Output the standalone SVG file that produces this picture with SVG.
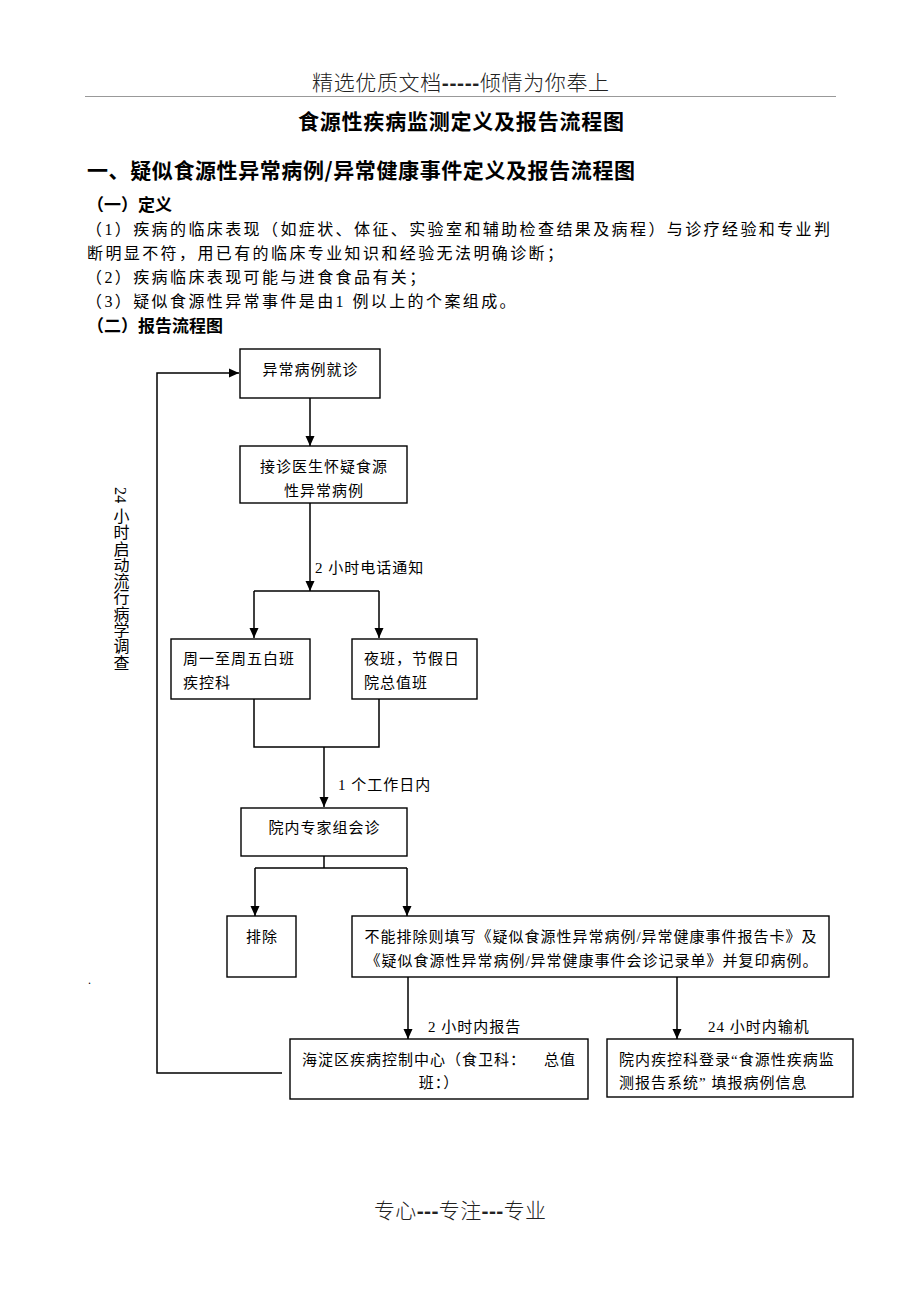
<svg xmlns="http://www.w3.org/2000/svg" width="920" height="1302" viewBox="0 0 920 1302">
<style>
text{font-family:"Liberation Serif","Noto Sans CJK SC",serif;fill:#000}
.hd{font-family:"Noto Sans CJK SC",sans-serif;font-weight:300;font-size:21px;fill:#222}
.dash{font-family:"Liberation Sans",sans-serif;font-weight:bold}
.h1{font-family:"Noto Sans CJK SC",sans-serif;font-weight:bold;font-size:21px}
.h2{font-family:"Noto Sans CJK SC",sans-serif;font-weight:bold;font-size:17px}
.body{font-size:16px;letter-spacing:2.4px}
.bx{font-size:15px;letter-spacing:1px}
.lbl{font-size:15px;letter-spacing:1px}
.node rect{fill:#fff;stroke:#000;stroke-width:1.4}
.conn path{fill:none;stroke:#000;stroke-width:1.5}
.c{text-anchor:middle}
</style>
<defs>
<marker id="ah" markerUnits="userSpaceOnUse" markerWidth="10" markerHeight="10" refX="10" refY="5" orient="auto">
<path d="M0,0.5 L10,5 L0,9.5 z" fill="#000"/>
</marker>
</defs>
<rect width="920" height="1302" fill="#fff"/>

<text class="hd c" x="460.5" y="90" textLength="297" lengthAdjust="spacing">精选优质文档<tspan class="dash">-----</tspan>倾情为你奉上</text>
<line x1="85" y1="96.5" x2="836" y2="96.5" stroke="#999" stroke-width="1"/>
<text class="h1 c" x="461" y="129" textLength="326" lengthAdjust="spacing">食源性疾病监测定义及报告流程图</text>
<text class="h1" x="87" y="178" textLength="548" lengthAdjust="spacing">一、疑似食源性异常病例/异常健康事件定义及报告流程图</text>
<text class="h2" x="87" y="211">（一）定义</text>
<text class="body" x="86" y="235">（1）疾病的临床表现（如症状、体征、实验室和辅助检查结果及病程）与诊疗经验和专业判</text>
<text class="body" x="87" y="259">断明显不符，用已有的临床专业知识和经验无法明确诊断；</text>
<text class="body" x="86" y="283">（2）疾病临床表现可能与进食食品有关；</text>
<text class="body" x="86" y="307">（3）疑似食源性异常事件是由1 例以上的个案组成。</text>
<text class="h2" x="87" y="332">（二）报告流程图</text>

<text x="120" y="487" style="writing-mode:vertical-rl;font-size:16px;letter-spacing:0.3px">24 小时启动流行病学调查</text>
<text x="88" y="984" style="font-size:12px">.</text>

<g class="conn">
<path d="M310,398 V446" marker-end="url(#ah)"/>
<path d="M310,503 V591" marker-end="url(#ah)"/>
<path d="M254,591 H379"/>
<path d="M254,591 V638" marker-end="url(#ah)"/>
<path d="M379,591 V638" marker-end="url(#ah)"/>
<path d="M254,699 V747 H379 V699"/>
<path d="M324,747 V807" marker-end="url(#ah)"/>
<path d="M324,856 V868"/>
<path d="M255,868 H407"/>
<path d="M255,868 V916" marker-end="url(#ah)"/>
<path d="M407,868 V916" marker-end="url(#ah)"/>
<path d="M408,977 V1039" marker-end="url(#ah)"/>
<path d="M677,977 V1039" marker-end="url(#ah)"/>
<path d="M282,1073 H157 V373 H239" marker-end="url(#ah)"/>
</g>

<text class="lbl" x="315" y="573">2 小时电话通知</text>
<text class="lbl" x="338" y="790">1 个工作日内</text>
<text class="lbl" x="428" y="1032">2 小时内报告</text>
<text class="lbl" x="708" y="1032">24 小时内输机</text>

<g id="n1" class="node">
<rect x="240" y="349" width="140" height="49"/>
<text class="bx c" x="310.5" y="375">异常病例就诊</text>
</g>
<g id="n2" class="node">
<rect x="240" y="446" width="167" height="57"/>
<text class="bx c" x="324" y="472">接诊医生怀疑食源</text>
<text class="bx c" x="324" y="496">性异常病例</text>
</g>
<g id="n3" class="node">
<rect x="171" y="639" width="139" height="60"/>
<text class="bx" x="183" y="664">周一至周五白班</text>
<text class="bx" x="183" y="688">疾控科</text>
</g>
<g id="n4" class="node">
<rect x="352" y="639" width="125" height="60"/>
<text class="bx" x="364" y="664">夜班，节假日</text>
<text class="bx" x="364" y="688">院总值班</text>
</g>
<g id="n5" class="node">
<rect x="241" y="808" width="166" height="48"/>
<text class="bx c" x="324.5" y="833">院内专家组会诊</text>
</g>
<g id="n6" class="node">
<rect x="227" y="916" width="69" height="61"/>
<text class="bx c" x="262" y="942">排除</text>
</g>
<g id="n7" class="node">
<rect x="352" y="916" width="477" height="61"/>
<text class="bx c" x="591" y="942">不能排除则填写《疑似食源性异常病例/异常健康事件报告卡》及</text>
<text class="bx c" x="592" y="966">《疑似食源性异常病例/异常健康事件会诊记录单》并复印病例。</text>
</g>
<g id="n8" class="node">
<rect x="290" y="1039" width="298" height="60"/>
<text class="bx" x="302" y="1065">海淀区疾病控制中心（食卫科：<tspan x="544">总值</tspan></text>
<text class="bx c" x="439" y="1088">班：）</text>
</g>
<g id="n9" class="node">
<rect x="607" y="1039" width="246" height="58"/>
<text class="bx" x="619" y="1065">院内疾控科登录“食源性疾病监</text>
<text class="bx" x="619" y="1088">测报告系统” 填报病例信息</text>
</g>

<text class="hd c" x="460" y="1218" textLength="172" lengthAdjust="spacing">专心<tspan class="dash">---</tspan>专注<tspan class="dash">---</tspan>专业</text>
</svg>
